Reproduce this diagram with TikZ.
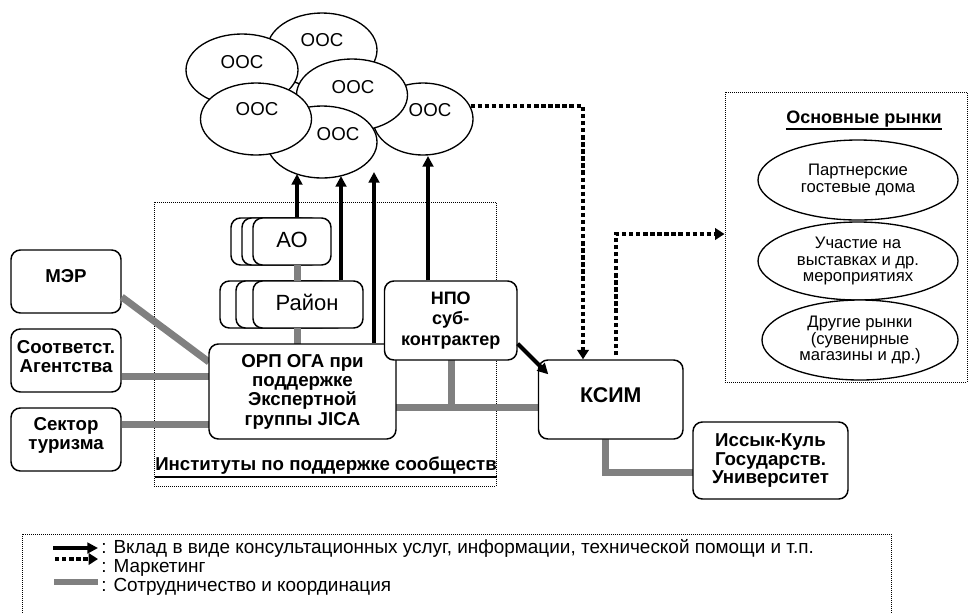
\documentclass[tikz,border=0pt]{standalone}
\usepackage{fontspec}
\setmainfont{Liberation Sans}
\usetikzlibrary{arrows.meta,shapes.geometric,calc}
\definecolor{gr}{RGB}{128,128,128}
\begin{document}
\begin{tikzpicture}[x=0.75pt,y=-0.75pt,
  wh/.style 2 args={minimum width=#1*0.75pt, minimum height=#2*0.75pt},
  box/.style={draw, line width=1.1pt, rounded corners=7pt, fill=white, inner sep=0pt, align=center},
  frame/.style={draw, rectangle, inner sep=0pt, line width=0.75pt, dash pattern=on 0.75pt off 0.75pt},
  ooc/.style={draw, ellipse, line width=1pt, fill=white, inner sep=0pt, align=center},
  ootxt/.style={inner sep=0pt, font=\fontsize{14}{15}\selectfont},
  bigtxt/.style={font=\fontsize{16.5}{18}\selectfont},
  bt/.style={font=\bfseries\fontsize{14}{14.6}\selectfont},
  arr/.style={line width=3pt, -{Triangle[length=8pt,width=8pt]}},
  mkt/.style={line width=3pt, dash pattern=on 3.3pt off 2pt, -{Triangle[length=7pt,width=8.5pt]}},
  coop/.style={draw=gr, line width=5.25pt},
  legtxt/.style={anchor=west, inner sep=0pt, font=\fontsize{14.2}{15}\selectfont},
  mtxt/.style={font=\fontsize{12.5}{12.5}\selectfont},
  uline/.style={line width=1.4pt}
]
\useasboundingbox (0,0) rectangle (969,612);

% dotted frames
\node[frame, wh={342}{284}] (inst) at (325,344) {};
\node[frame, wh={242}{290}] (mkbox) at (846,237) {};
\node[frame, wh={869}{86}] (legend) at (456.5,577) {};

% top cluster of ellipses
\node[ooc, wh={110}{74}] (e1) at (322,50) {};
\node[ooc, wh={112}{72}] (e2) at (242,70) {};
\node[ooc, wh={100}{72}] (e6) at (423,119) {};
\node[ooc, wh={111}{72}] (e3) at (352,95) {};
\node[ooc, wh={110}{72}] (e5) at (322,142) {};
\node[ooc, wh={111}{72}] (e4) at (256,119) {};
\node[ootxt] (t1) at (322,40) {ООС};
\node[ootxt] (t2) at (242,62) {ООС};
\node[ootxt] (t3) at (353,87) {ООС};
\node[ootxt] (t4) at (257,109) {ООС};
\node[ootxt] (t5) at (338,134) {ООС};
\node[ootxt] (t6) at (430,110) {ООС};

% stacked boxes
\node[box, wh={78}{47}] (aob2) at (270,241.5) {};
\node[box, wh={78}{47}] (aob1) at (281,241.5) {};
\node[box, wh={78}{47}] (ao) at (292,241.5) {};
\node[bigtxt, inner sep=0pt] (aot) at (292,240) {АО};
\node[box, wh={110}{47}] (rb2) at (275,304.5) {};
\node[box, wh={110}{47}] (rb1) at (291,304.5) {};
\node[box, wh={110}{47}] (rayon) at (308,304.5) {};
\node[bigtxt, inner sep=0pt] (rt) at (307,302) {Район};

% main boxes
\node[box, wh={110}{63}] (mer) at (66,281.5) {};
\node[bt, inner sep=0pt] (mert) at (66,276) {МЭР};
\node[box, wh={110}{63}] (agency) at (66,360.5) {};
\node[bt, inner sep=0pt, align=center] (agt) at (66,356.5) {Соответст.\\Агентства};
\node[box, wh={110}{63}] (sector) at (66,439.5) {};
\node[bt, inner sep=0pt, align=center] (sct) at (66,435.5) {Сектор\\туризма};

% cooperation lines
\draw[coop] ($(mer.east)+(0,15.5)$) -- (209,362) coordinate (orpin);
\draw[coop] ($(agency.east)+(0,15.5)$) -- (209,376);
\draw[coop] ($(sector.east)+(0,-15.5)$) -- (209,424);
\draw[coop] (297,265) -- (297,281);
\draw[coop] (297,328) -- (297,344);
\draw[coop] (396,407.5) -- (538.5,407.5);
\draw[coop] (451,360) -- (451,407.5);
\draw[coop] (605,439) |- (693,472);

\node[box, wh={187}{95}, font=\bfseries\fontsize{14}{14.5}\selectfont] (orp) at (302.5,391.5) {ОРП ОГА при\\поддержке\\Экспертной\\группы JICA};
\node[box, wh={132.5}{79}, font=\bfseries\fontsize{13.5}{15.4}\selectfont] (npo) at (450.75,320.5) {НПО\\суб-\\контрактер};
\node[box, wh={144.5}{79}] (ksim) at (610.75,399.5) {};
\node[font=\bfseries\fontsize{16}{17}\selectfont, inner sep=0pt] (ksimt) at (610.75,395) {КСИМ};
\node[box, wh={155}{77}, font=\bfseries\fontsize{14}{13.8}\selectfont] (issyk) at (770.5,460.5) {Иссык-Куль\\Государств.\\Университет};

\node[bt, inner sep=0pt] (instt) at (326,466) {Институты по поддержке сообществ};
\draw[uline] ($(instt.south west)+(0,2)$) -- ($(instt.south east)+(0,2)$);

% markets
\node[bt, inner sep=0pt, font=\bfseries\fontsize{13.5}{14}\selectfont] (mkt) at (864,119) {Основные рынки};
\draw[uline] ($(mkt.south west)+(0,2)$) -- ($(mkt.south east)+(0,2)$);
\node[ooc, wh={200}{80}, mtxt] (m1) at (858,180) {Партнерские\\гостевые дома};
\node[ooc, wh={200}{78}, mtxt] (m2) at (858,261) {Участие на\\выставках и др.\\мероприятиях};
\node[ooc, wh={196}{80}, mtxt] (m3) at (860,340) {Другие рынки\\(сувенирные\\магазины и др.)};

% input arrows to OOC
\coordinate (p1) at (297,174);
\coordinate (p2) at (341,176);
\coordinate (p3) at (374,172);
\coordinate (p4) at (428,156);
\draw[arr] (p1 |- ao.north) -- (p1);
\draw[arr] (p2 |- rayon.north) -- (p2);
\draw[arr] (p3 |- orp.north) -- (p3);
\draw[arr] (p4 |- npo.north) -- (p4);
\draw[arr] ($(npo.south east)+(0,-17)$) -- ($(ksim.north west)+(10.5,15)$);

% marketing
\draw[mkt] (e6.15) -| ($(ksim.north)+(-27.75,0)$);
\draw[mkt] ($(ksim.north)+(5.25,-4)$) |- ($(mkbox.west)+(0,-3)$);

% legend
\coordinate (la1) at (53,548); \coordinate (lb1) at (98,548);
\coordinate (la2) at (55,559); \coordinate (lb2) at (98,559);
\coordinate (la3) at (54,582); \coordinate (lb3) at (98,582);
\draw[arr] (la1) -- (lb1);
\draw[mkt] (la2) -- (lb2);
\draw[draw=gr, line width=4.5pt] (la3) -- (lb3);
\node[legtxt] (lt1) at (101,548) {: Вклад в виде консультационных услуг, информации, технической помощи и т.п.};
\node[legtxt] (lt2) at (101,568) {: Маркетинг};
\node[legtxt] (lt3) at (101,587) {: Сотрудничество и координация};
\end{tikzpicture}
\end{document}
